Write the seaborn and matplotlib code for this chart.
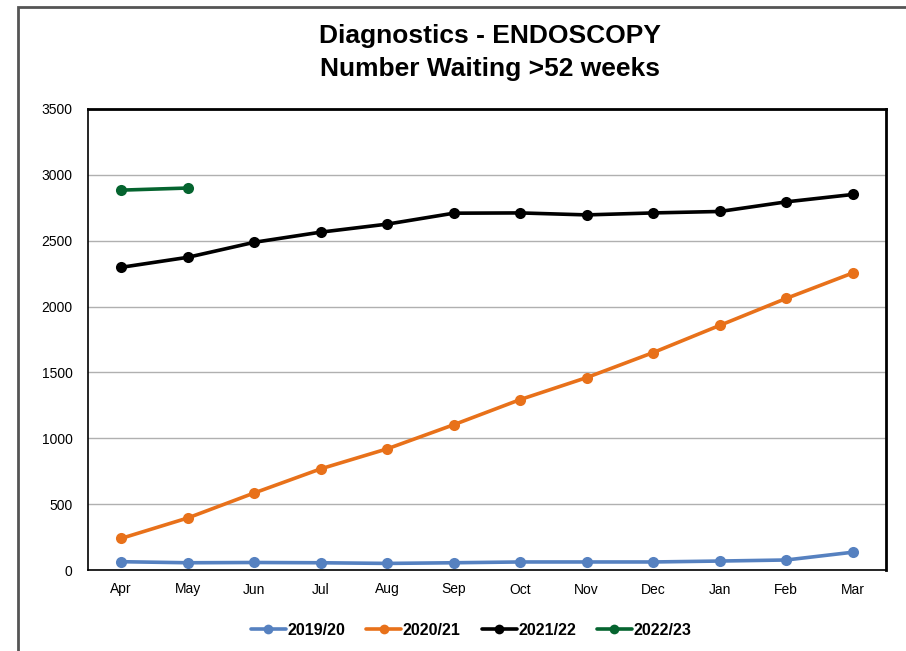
import pandas as pd
import matplotlib.pyplot as plt
import seaborn as sns
from matplotlib.patches import Rectangle

months = ['Apr', 'May', 'Jun', 'Jul', 'Aug', 'Sep', 'Oct', 'Nov', 'Dec', 'Jan', 'Feb', 'Mar']
years = ['2019/20', '2020/21', '2021/22', '2022/23']

y2019 = [63, 55, 57, 55, 50, 55, 61, 61, 61, 68, 76, 135]
y2020 = [240, 395, 585, 768, 920, 1103, 1294, 1461, 1651, 1857, 2062, 2255]
y2021 = [2298, 2374, 2488, 2565, 2626, 2709, 2711, 2696, 2711, 2722, 2795, 2851]
y2022 = [2884, 2900]

colors = ['#5681C0', '#E8711A', '#000000', '#05642F']

sns.set_style('white')
plt.rcParams['font.family'] = ['Liberation Sans', 'DejaVu Sans']
plt.rcParams['text.color'] = 'black'
plt.rcParams['xtick.color'] = 'black'
plt.rcParams['ytick.color'] = 'black'

rows = []
for yr, vals in zip(years, [y2019, y2020, y2021, y2022]):
    for m, v in zip(months, vals):
        rows.append({'month': m, 'year': yr, 'value': v})
df = pd.DataFrame(rows)
df['x'] = df['month'].map({m: i for i, m in enumerate(months)})

fig = plt.figure(figsize=(9.06, 6.51), dpi=100)
ax = fig.add_axes([88 / 906, 81 / 651, 798 / 906, 461 / 651])

sns.lineplot(data=df, x='x', y='value', hue='year', hue_order=years,
             palette=colors, marker='o', markersize=8, markeredgewidth=0,
             linewidth=2.6, ax=ax, legend=False)

ax.set_xlim(-0.5, 11.5)
ax.set_ylim(0, 3500)
ax.set_yticks(range(0, 3501, 500))
# ticks sit between the months, labels centred on them
ax.set_xticks([i - 0.5 for i in range(13)])
ax.set_xticklabels([])
ax.set_xticks(range(12), minor=True)
ax.set_xticklabels(months, minor=True)
ax.tick_params(axis='x', which='minor', length=0, pad=9, labelsize=10)
ax.tick_params(axis='x', which='major', length=5, width=1, direction='out')
ax.tick_params(axis='y', length=5, width=1, direction='out', labelsize=10, pad=6)
ax.set_xlabel('')
ax.set_ylabel('')
ax.grid(axis='y', color='#b0b0b0', linewidth=1)
for s in ax.spines.values():
    s.set_color('black')
    s.set_linewidth(1.2)
ax.spines['right'].set_linewidth(2)
ax.spines['top'].set_linewidth(2)

fig.text(0.541, 0.944, 'Diagnostics - ENDOSCOPY', ha='center', va='center',
         fontsize=19, fontweight='bold')
fig.text(0.541, 0.894, 'Number Waiting >52 weeks', ha='center', va='center',
         fontsize=19, fontweight='bold')

handles = [plt.Line2D([], [], color=c, marker='o', markersize=7, markeredgewidth=0,
                      linewidth=2.6) for c in colors]
fig.legend(handles, years, loc='center', bbox_to_anchor=(0.52, 0.032), ncol=4,
           frameon=False, handlelength=2.2, handletextpad=0.1, columnspacing=1.3,
           prop={'weight': 'bold', 'size': 11.5})

# grey frame around the chart area
fig.patches.append(Rectangle((18 / 906, -0.1), 1.2, 1 - 7 / 651 + 0.1,
                             transform=fig.transFigure, fill=False,
                             edgecolor='#555555', linewidth=2))

fig.savefig('out.png', dpi=100)
